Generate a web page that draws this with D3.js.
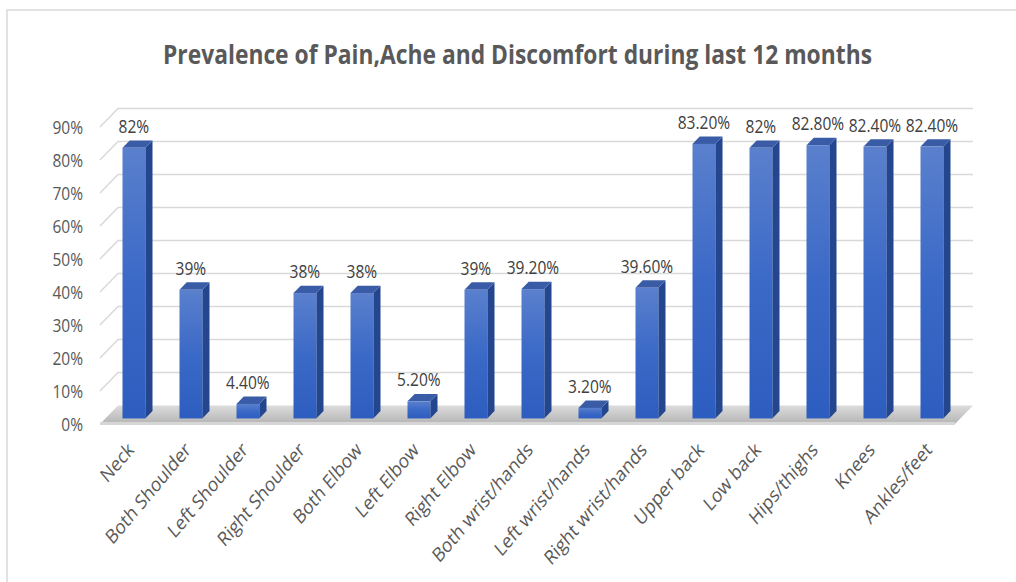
<!DOCTYPE html>
<html>
<head>
<meta charset="utf-8">
<script src="https://cdn.jsdelivr.net/npm/d3@7"></script>
<style>
  html, body { margin: 0; padding: 0; background: #ffffff; }
  svg { display: block; }
  text { font-family: "Open Sans", "Noto Sans", sans-serif; }
</style>
</head>
<body>
<svg id="chart" width="1016" height="582"></svg>
<script>
const categories = ["Neck","Both Shoulder","Left Shoulder","Right Shoulder","Both Elbow","Left Elbow","Right Elbow","Both wrist/hands","Left wrist/hands","Right wrist/hands","Upper back","Low back","Hips/thighs","Knees","Ankles/feet"];
const values = [82, 39, 4.4, 38, 38, 5.2, 39, 39.2, 3.2, 39.6, 83.2, 82, 82.8, 82.4, 82.4];
const valueLabels = ["82%","39%","4.40%","38%","38%","5.20%","39%","39.20%","3.20%","39.60%","83.20%","82%","82.80%","82.40%","82.40%"];
const yTicks = [0, 10, 20, 30, 40, 50, 60, 70, 80, 90];
const titleText = "Prevalence of Pain,Ache and Discomfort during last 12 months";

const svg = d3.select("#chart");
const SX = 0.84;           // horizontal squeeze of the text
const DX = 18, DY = 18.5;  // depth offset of the back wall
const D0 = 0.3, D1 = 0.7;  // bar depth fractions

const x = d3.scaleBand().domain(categories).range([100, 955]).paddingInner(0.6).paddingOuter(0.3);
const y = d3.scaleLinear().domain([0, 90]).range([424, 127]);

// defs
const defs = svg.append("defs");
const gFront = defs.append("linearGradient").attr("id", "front").attr("x1", 0).attr("y1", 0).attr("x2", 0).attr("y2", 1);
gFront.append("stop").attr("offset", "0%").attr("stop-color", "#5a80cd");
gFront.append("stop").attr("offset", "50%").attr("stop-color", "#3b69c7");
gFront.append("stop").attr("offset", "100%").attr("stop-color", "#2d5dbf");
const gFloor = defs.append("linearGradient").attr("id", "floor").attr("x1", 0).attr("y1", 0).attr("x2", 0).attr("y2", 1);
gFloor.append("stop").attr("offset", "0%").attr("stop-color", "#dcdcdc");
gFloor.append("stop").attr("offset", "100%").attr("stop-color", "#b4b4b4");

// chart border
svg.append("path").attr("d", "M7,582 L7,10 L1016,10").attr("fill", "none").attr("stroke", "#d9d9d9").attr("stroke-width", 1.5);

// title
svg.append("text")
  .attr("x", 163).attr("y", 64)
  .attr("textLength", 709).attr("lengthAdjust", "spacingAndGlyphs")
  .attr("font-size", 27).attr("font-weight", "bold").attr("fill", "#595959")
  .text(titleText);

// gridlines: back wall and left wall
const x0 = x.range()[0], x1 = x.range()[1];
const grid = svg.append("g");
yTicks.filter(t => t > 0).forEach(t => {
  grid.append("path")
    .attr("d", `M${x0},${y(t)} L${x0 + DX},${y(t) - DY} L${x1 + DX},${y(t) - DY}`)
    .attr("fill", "none").attr("stroke", "#d9d9d9").attr("stroke-width", 1.5);
});

// floor
svg.append("path")
  .attr("d", `M${x0},${y(0)} L${x0 + DX},${y(0) - DY} L${x1 + DX},${y(0) - DY} L${x1},${y(0)} Z`)
  .attr("fill", "url(#floor)");
svg.append("rect").attr("x", x0).attr("y", y(0) - 2).attr("width", x1 - x0).attr("height", 3).attr("fill", "#d6d6d6");

// y axis
const yAxis = svg.append("g").attr("transform", "translate(83,0)")
  .call(d3.axisLeft(y).tickValues(yTicks).tickFormat(d => d + "%").tickSize(0).tickPadding(0));
yAxis.select(".domain").remove();
yAxis.selectAll("text")
  .attr("x", 0).attr("dy", "0.36em")
  .attr("transform", `scale(${SX},1)`)
  .attr("font-size", 18.5).attr("fill", "#595959")
  .style("font-family", "'Open Sans', 'Noto Sans', sans-serif");

// bars
const bars = svg.append("g");
categories.forEach((c, i) => {
  const v = values[i];
  const xl = x(c), xr = xl + x.bandwidth();
  const top0 = y(v) - D0 * DY, bot0 = y(0) - D0 * DY;
  const top1 = y(v) - D1 * DY, bot1 = y(0) - D1 * DY;
  const fl = xl + D0 * DX, fr = xr + D0 * DX, br = xr + D1 * DX, bl = xl + D1 * DX;
  const g = bars.append("g");
  g.append("path").attr("d", `M${fr},${top0} L${br},${top1} L${br},${bot1} L${fr},${bot0} Z`).attr("fill", "#24468f");
  g.append("path").attr("d", `M${fl},${top0} L${fr},${top0} L${br},${top1} L${bl},${top1} Z`).attr("fill", "#3a5ca6");
  g.append("rect").attr("x", fl).attr("y", top0).attr("width", fr - fl).attr("height", bot0 - top0).attr("fill", "url(#front)");
  // value label
  g.append("text")
    .attr("transform", `translate(${(fl + fr) / 2},${top0 - 15}) scale(${SX},1)`)
    .attr("text-anchor", "middle").attr("font-size", 18.5).attr("fill", "#404040")
    .text(valueLabels[i]);
});

// category labels
const cats = svg.append("g");
categories.forEach((c) => {
  const cx = x(c) + x.bandwidth() / 2 + D0 * DX;
  cats.append("text")
    .attr("transform", `translate(${cx + 1},${451}) scale(${SX},1) rotate(-45)`)
    .attr("text-anchor", "end").attr("font-size", 20).attr("fill", "#595959")
    .text(c);
});
</script>
</body>
</html>
